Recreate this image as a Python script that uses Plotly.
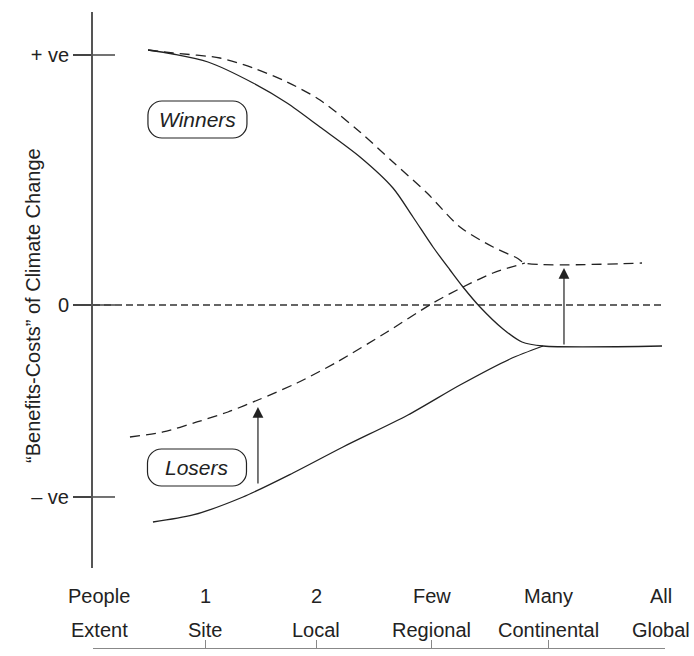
import plotly.graph_objects as go

# ---- data ----
# x scale: 0 = People/Extent ... 5 = All/Global
x_tick_pos = [0, 0.98, 1.95, 2.96, 3.98, 5.0]
people_labels = ["People", "1", "2", "Few", "Many", "All"]
extent_labels = ["Extent", "Site", "Local", "Regional", "Continental", "Global"]

y_tick_vals = [1.0, 0.0, -0.768]
y_tick_text = ["+ ve", "0", "– ve"]

# Winners, today (solid)
winners_solid_x = [0.481, 0.699, 1.005, 1.399, 1.696, 1.984, 2.334, 2.622, 2.797, 2.972, 3.121, 3.234, 3.383, 3.584, 3.750, 3.934, 4.974]
winners_solid_y = [1.02, 1.004, 0.972, 0.888, 0.808, 0.712, 0.592, 0.468, 0.352, 0.232, 0.14, 0.072, -0.008, -0.096, -0.148, -0.164, -0.164]

# Winners, after (dashed)
winners_dash_x = [0.481, 0.699, 1.110, 1.399, 1.696, 1.984, 2.334, 2.622, 2.920, 3.208, 3.497, 3.706, 3.776, 4.799]
winners_dash_y = [1.02, 1.008, 0.988, 0.948, 0.892, 0.82, 0.692, 0.572, 0.448, 0.312, 0.232, 0.188, 0.168, 0.168]

# Losers, today (solid)
losers_solid_x = [0.524, 0.874, 1.311, 1.748, 2.185, 2.753, 3.208, 3.645, 3.934]
losers_solid_y = [-0.868, -0.84, -0.768, -0.672, -0.568, -0.44, -0.32, -0.216, -0.164]

# Losers, after (dashed)
losers_dash_x = [0.323, 0.612, 0.909, 1.180, 1.442, 1.783, 2.133, 2.570, 2.972, 3.234, 3.497, 3.776]
losers_dash_y = [-0.528, -0.508, -0.468, -0.428, -0.38, -0.312, -0.228, -0.108, 0.008, 0.072, 0.128, 0.168]

# zero reference line
zero_x = [0.0, 4.974]
zero_y = [0.0, 0.0]

# arrows (x, from_y, to_y)
arrows = [(1.442, -0.72, -0.408), (4.117, -0.164, 0.148)]

# labelled boxes: text, center x, center y
boxes = [("Winners", 0.913, 0.742), ("Losers", 0.909, -0.65)]

FONT = "Liberation Sans, Arial, sans-serif"
INK = "#222222"

fig = go.Figure()

def add_line(x, y, dash, width=1.3, color=INK, shape="spline"):
    fig.add_trace(go.Scatter(x=x, y=y, mode="lines",
                             line=dict(color=color, width=width, dash=dash, shape=shape, smoothing=0.8),
                             hoverinfo="skip", showlegend=False))

add_line(zero_x, zero_y, "7px,4px", width=1.3, color="#333333", shape="linear")
add_line(winners_dash_x, winners_dash_y, "10px,6px")
add_line(losers_dash_x, losers_dash_y, "10px,6px")
add_line(winners_solid_x, winners_solid_y, "solid")
add_line(losers_solid_x, losers_solid_y, "solid")

# rounded boxes
XU, YU = 114.4, 250.0  # px per data unit
hw, hh, r = 49.5 / XU, 18.5 / YU, 14.0
rx, ry = r / XU, r / YU
k = 0.45
shapes = []
for text, cx, cy in boxes:
    x0, x1, y0, y1 = cx - hw, cx + hw, cy - hh, cy + hh
    p = (f"M {x0+rx},{y1} L {x1-rx},{y1} "
         f"C {x1-rx*k},{y1} {x1},{y1-ry*k} {x1},{y1-ry} "
         f"L {x1},{y0+ry} "
         f"C {x1},{y0+ry*k} {x1-rx*k},{y0} {x1-rx},{y0} "
         f"L {x0+rx},{y0} "
         f"C {x0+rx*k},{y0} {x0},{y0+ry*k} {x0},{y0+ry} "
         f"L {x0},{y1-ry} "
         f"C {x0},{y1-ry*k} {x0+rx*k},{y1} {x0+rx},{y1} Z")
    shapes.append(dict(type="path", path=p, xref="x", yref="y",
                       line=dict(color=INK, width=1.2), fillcolor="rgba(0,0,0,0)"))

# inner halves of y ticks (ticks cross the axis)
for yv in y_tick_vals:
    shapes.append(dict(type="line", xref="x", yref="y", x0=0, x1=22 / XU, y0=yv, y1=yv,
                       line=dict(color="#444444", width=1.5)))

annotations = []
for text, cx, cy in boxes:
    annotations.append(dict(x=cx, y=cy, xref="x", yref="y", text=f"<i>{text}</i>", showarrow=False,
                            xanchor="center", yanchor="middle",
                            font=dict(family=FONT, size=21, color=INK)))

for xa, yfrom, yto in arrows:
    annotations.append(dict(x=xa, y=yto, ax=xa, ay=yfrom, xref="x", yref="y", axref="x", ayref="y",
                            text="", showarrow=True, arrowhead=2, arrowsize=1.8, arrowwidth=1.2,
                            arrowcolor=INK, standoff=0, startstandoff=0))

for i, (xp, t1, t2) in enumerate(zip(x_tick_pos, people_labels, extent_labels)):
    shift = 6 if i == 0 else (-4 if i == len(x_tick_pos) - 1 else 0)
    annotations.append(dict(x=xp, y=0.0818, xref="x", yref="paper", text=t1, showarrow=False,
                            xanchor="center", yanchor="middle",
                            xshift=shift, font=dict(family=FONT, size=20, color=INK)))
    annotations.append(dict(x=xp, y=0.0283, xref="x", yref="paper", text=t2, showarrow=False,
                            xanchor="center", yanchor="middle",
                            xshift=shift, font=dict(family=FONT, size=20, color=INK)))

annotations.append(dict(x=-0.105, y=0.0, xref="paper", yref="y", text="“Benefits-Costs” of Climate Change",
                        textangle=-90, showarrow=False, xanchor="center", yanchor="middle",
                        font=dict(family=FONT, size=20, color=INK)))

fig.update_layout(
    width=694, height=656,
    margin=dict(l=93, r=29, t=12, b=8),
    plot_bgcolor="white", paper_bgcolor="white",
    shapes=shapes, annotations=annotations,
    xaxis=dict(range=[0, 5], anchor="free", position=0, showgrid=False, zeroline=False,
               showline=True, linecolor="#888888", linewidth=1,
               tickvals=x_tick_pos, ticks="inside", ticklen=8, tickcolor="#888888", tickwidth=1,
               showticklabels=False),
    yaxis=dict(range=[-1.052, 1.172], domain=[0.1258, 1], showgrid=False, zeroline=False,
               showline=True, linecolor="#555555", linewidth=2,
               tickvals=y_tick_vals, ticktext=y_tick_text, ticks="outside", ticklen=18,
               tickcolor="#444444", tickwidth=1.5,
               tickfont=dict(family=FONT, size=20, color=INK)),
)

# remove the browser's default 8px body margin so the figure fills the window exactly
fig.write_html("out.html", config={"displayModeBar": False},
               post_script="document.body.style.margin='0';document.body.style.overflow='hidden';")
